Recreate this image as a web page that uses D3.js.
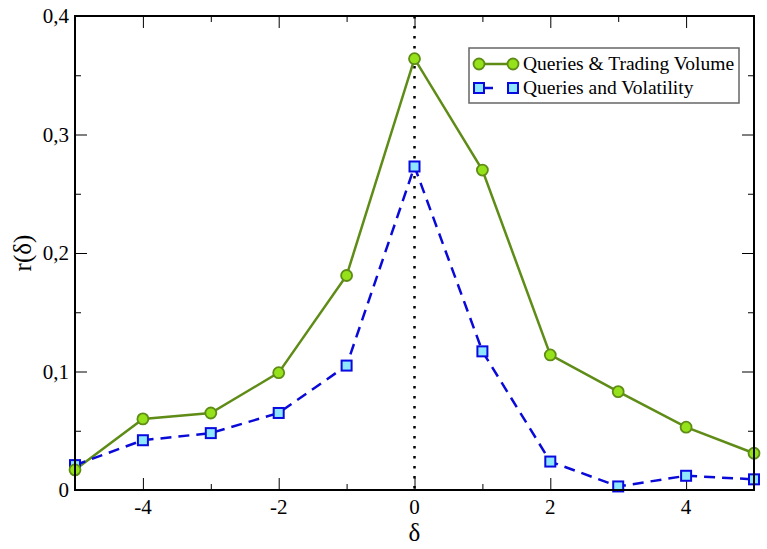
<html>
<script src="https://d3js.org/d3.v7.min.js"></script>
<style>
  body { margin:0; background:#fff; }
  text { font-family:"Liberation Serif","Times New Roman",serif; fill:#000; }
</style>
<body>
<svg id="plot"></svg>
<script>

// lags and correlations
var lags = [-5,-4,-3,-2,-1,0,1,2,3,4,5];
var volumeR = [0.017,0.060,0.065,0.099,0.181,0.364,0.270,0.114,0.083,0.053,0.031];
var volatR  = [0.021,0.042,0.048,0.065,0.105,0.273,0.117,0.024,0.003,0.012,0.009];
var xTicks = [-4,-2,0,2,4];
var yTicks = [0,0.1,0.2,0.3,0.4];
var seriesNames = ["Queries & Trading Volume","Queries and Volatility"];

var screen = {width:767, height:549};
var margins = {top:16, bottom:59, left:75, right:13};
var graph = {
    width:screen.width-margins.left-margins.right,
    height:screen.height-margins.top-margins.bottom
};

var svg = d3.select("#plot")
    .attr("width",screen.width)
    .attr("height",screen.height);

var xScale = d3.scaleLinear().domain([-5,5]).range([0,graph.width]);
var yScale = d3.scaleLinear().domain([0,0.4]).range([graph.height,0]);

var g = svg.append("g")
    .attr("transform","translate("+margins.left+","+margins.top+")");

var fmt = function(d){ return d===0 ? "0" : d3.format(".1f")(d).replace(".",","); };

// inward ticks on all four sides
var tickSide = function(axis, tr, minorVals, majorVals){
    var a = g.append("g").attr("transform",tr);
    a.call(axis.tickValues(majorVals).tickSize(-12).tickFormat(""));
    a.append("g").call(axis.tickValues(minorVals).tickSize(-6).tickFormat(""));
    a.selectAll(".domain").remove();
    a.selectAll("line").attr("stroke","#000").attr("stroke-width",1);
};
var xMinor = [-3,-1,1,3];
var yMinor = [0.05,0.15,0.25,0.35];
tickSide(d3.axisBottom(xScale),"translate(0,"+graph.height+")",xMinor,xTicks);
tickSide(d3.axisTop(xScale),"translate(0,0)",xMinor,xTicks);
tickSide(d3.axisLeft(yScale),"translate(0,0)",yMinor,yTicks);
tickSide(d3.axisRight(yScale),"translate("+graph.width+",0)",yMinor,yTicks);

// tick labels
g.selectAll(".xl").data(xTicks).enter().append("text")
    .attr("x",function(d){return xScale(d);})
    .attr("y",graph.height+24)
    .attr("text-anchor","middle")
    .attr("font-size",21)
    .text(function(d){ return d<0 ? "-"+Math.abs(d) : d; });

g.selectAll(".yl").data(yTicks).enter().append("text")
    .attr("x",-6)
    .attr("y",function(d){return yScale(d)+7;})
    .attr("text-anchor","end")
    .attr("font-size",21)
    .text(fmt);

// axis titles
svg.append("text")
    .attr("x",margins.left+xScale(0))
    .attr("y",541)
    .attr("text-anchor","middle")
    .attr("font-size",25)
    .text("δ");

svg.append("g")
    .attr("transform","translate(31,"+(margins.top+yScale(0.2))+")")
    .append("text")
    .attr("transform","rotate(-90)")
    .attr("text-anchor","middle")
    .attr("font-size",25)
    .text("r(δ)");

// dotted zero line
g.append("line")
    .attr("x1",xScale(0)).attr("x2",xScale(0))
    .attr("y1",0).attr("y2",graph.height)
    .attr("stroke","#000").attr("stroke-width",2.5)
    .attr("stroke-dasharray","2.5,7.5");

var line = function(vals){
    return d3.line()
        .x(function(d,i){return xScale(lags[i]);})
        .y(function(d){return yScale(d);})(vals);
};

g.append("path").attr("d",line(volumeR))
    .attr("fill","none").attr("stroke","#5f8c17").attr("stroke-width",2.5);
g.append("path").attr("d",line(volatR))
    .attr("fill","none").attr("stroke","#0a0ad8").attr("stroke-width",2.5)
    .attr("stroke-dasharray","11,7");

g.selectAll(".sq").data(volatR).enter().append("rect")
    .attr("x",function(d,i){return xScale(lags[i])-5;})
    .attr("y",function(d){return yScale(d)-5;})
    .attr("width",10).attr("height",10)
    .attr("fill","#8fe6ff").attr("stroke","#0a0ae0").attr("stroke-width",2);

g.selectAll(".ci").data(volumeR).enter().append("circle")
    .attr("cx",function(d,i){return xScale(lags[i]);})
    .attr("cy",function(d){return yScale(d);})
    .attr("r",5.5)
    .attr("fill","#95e21a").attr("stroke","#5f8c17").attr("stroke-width",1.8);

// frame
g.append("rect")
    .attr("width",graph.width).attr("height",graph.height)
    .attr("fill","none").attr("stroke","#000").attr("stroke-width",2);

// legend
var leg = svg.append("g").attr("transform","translate(469,48)");
leg.append("rect").attr("width",270).attr("height",55)
    .attr("fill","#fff").attr("stroke","#666").attr("stroke-width",1.5);

leg.append("line").attr("x1",10).attr("x2",44).attr("y1",16).attr("y2",16)
    .attr("stroke","#5f8c17").attr("stroke-width",2.5);
leg.selectAll(".lc").data([10,44]).enter().append("circle")
    .attr("cx",function(d){return d;}).attr("cy",16).attr("r",5.5)
    .attr("fill","#95e21a").attr("stroke","#5f8c17").attr("stroke-width",1.8);

leg.append("line").attr("x1",10).attr("x2",44).attr("y1",40).attr("y2",40)
    .attr("stroke","#0a0ad8").attr("stroke-width",2.5).attr("stroke-dasharray","0,5,9,30");
leg.selectAll(".ls").data([10,44]).enter().append("rect")
    .attr("x",function(d){return d-5;}).attr("y",35).attr("width",10).attr("height",10)
    .attr("fill","#8fe6ff").attr("stroke","#0a0ae0").attr("stroke-width",2);

leg.selectAll(".lt").data(seriesNames).enter().append("text")
    .attr("x",54)
    .attr("y",function(d,i){return 22+i*24;})
    .attr("font-size",19.5)
    .text(function(d){return d;});

</script>
</body>
</html>
